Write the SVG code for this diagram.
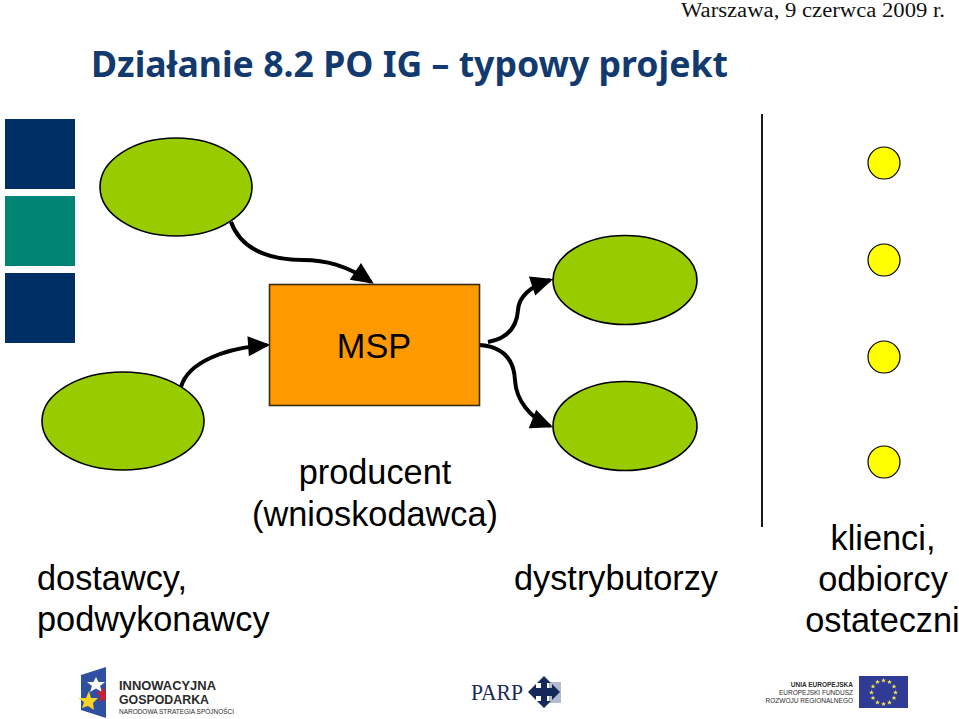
<svg xmlns="http://www.w3.org/2000/svg" xmlns:xlink="http://www.w3.org/1999/xlink" width="959" height="719" viewBox="0 0 959 719">
<style>
.lbl{font-family:"Liberation Sans",Arial,sans-serif;font-size:34.3px;fill:#000}
.m{text-anchor:middle}
.green{fill:#99cc00;stroke:#000;stroke-width:1.6}
.yellow{fill:#ffff00;stroke:#000;stroke-width:1.2}
.conn{fill:none;stroke:#000;stroke-width:4;marker-end:url(#head)}
.logo{font-family:"Liberation Sans",Arial,sans-serif;fill:#2b2b2b}
</style>
<defs>
<marker id="head" markerUnits="userSpaceOnUse" markerWidth="24" markerHeight="20" refX="17" refY="9" orient="auto" viewBox="0 0 20 18" overflow="visible"><polygon points="0,0 20,9 0,18" fill="#000"/></marker>
<polygon id="star" points="0,-2.6 .7,-.8 2.5,-.8 1.1,.3 1.6,2.1 0,1 -1.6,2.1 -1.1,.3 -2.5,-.8 -.7,-.8" fill="#f4e04d"/>
</defs>
<rect width="959" height="719" fill="#fff"/>
<text x="681" y="17" font-family="Liberation Serif,serif" font-size="20" fill="#111" textLength="264" lengthAdjust="spacingAndGlyphs">Warszawa, 9 czerwca 2009 r.</text>
<text x="91" y="77" font-family="Noto Sans,DejaVu Sans,sans-serif" font-weight="700" font-size="36" fill="#123a6e" textLength="637" lengthAdjust="spacingAndGlyphs">Działanie 8.2 PO IG – typowy projekt</text>
<g id="squares">
<rect x="5" y="119" width="70" height="70" fill="#003063"/>
<rect x="5" y="196" width="70" height="70" fill="#008575"/>
<rect x="5" y="273" width="70" height="70" fill="#003063"/>
</g>
<g id="connectors">
<path class="conn" d="M231,222 C243,255 280,260 303,260 C325,260 346,265 371,282"/>
<path class="conn" d="M181,387 C188,362 225,348 267,345"/>
<path class="conn" d="M488,342 C510,338 517,325 518,310 C519,296 532,286 550,280"/>
<path class="conn" d="M480,345 C505,347 514,362 515,380 C516,400 530,418 550,426"/>
</g>
<g id="node-a"><ellipse class="green" cx="176" cy="187" rx="76" ry="49"/></g>
<g id="node-b"><ellipse class="green" cx="123" cy="421" rx="81" ry="49"/></g>
<g id="node-c"><ellipse class="green" cx="625" cy="280" rx="72" ry="44.5"/></g>
<g id="node-d"><ellipse class="green" cx="625" cy="426" rx="72" ry="44.5"/></g>
<g id="node-msp"><rect x="269.5" y="284.5" width="210" height="121" fill="#ff9900" stroke="#3a2a10" stroke-width="1.6"/>
<text class="lbl m" x="374" y="358">MSP</text></g>
<line x1="762" y1="114" x2="762" y2="527" stroke="#000" stroke-width="1.8"/>
<g id="client-1"><circle class="yellow" cx="884" cy="163" r="16"/></g>
<g id="client-2"><circle class="yellow" cx="884" cy="260" r="16"/></g>
<g id="client-3"><circle class="yellow" cx="884" cy="357" r="16"/></g>
<g id="client-4"><circle class="yellow" cx="884" cy="462" r="16"/></g>
<text class="lbl m" x="375" y="484">producent</text>
<text class="lbl m" x="375" y="526">(wnioskodawca)</text>
<text class="lbl" x="37" y="590">dostawcy,</text>
<text class="lbl" x="37" y="631">podwykonawcy</text>
<text class="lbl" x="514" y="590">dystrybutorzy</text>
<text class="lbl m" x="883" y="550">klienci,</text>
<text class="lbl m" x="883" y="591">odbiorcy</text>
<text class="lbl m" x="882.500" y="632">ostateczni</text>
<g id="logo-ig">
<polygon points="81,675 106,667 106,718 81,710" fill="#2f4fa0"/>
<polygon points="96,677 98.500,682 105,682 100,686 102,692 96,688.500 90,692 92,686 87,682 93.500,682" fill="#fff"/>
<polygon points="103,687 105,691 106,691 106,702 103,699 99,702 100,696 96,692 101,692" fill="#c8202f"/>
<polygon points="89,691 91,698 98,698 93,703 94,710 88,706 82,708 84,702 78,698 86,698" fill="#f5d327"/>
<text class="logo" x="119" y="690" font-weight="700" font-size="12" textLength="97" lengthAdjust="spacingAndGlyphs">INNOWACYJNA</text>
<text class="logo" x="119" y="704" font-weight="700" font-size="12" textLength="90" lengthAdjust="spacingAndGlyphs">GOSPODARKA</text>
<text class="logo" x="119" y="714" font-size="7" textLength="115" lengthAdjust="spacingAndGlyphs">NARODOWA STRATEGIA SPÓJNOŚCI</text>
</g>
<g id="logo-parp">
<text x="471" y="700" font-family="Liberation Serif,serif" font-size="24" fill="#1c2c55" textLength="52" lengthAdjust="spacingAndGlyphs">PARP</text>
<rect x="549" y="682" width="12" height="21" fill="#b4bbd0"/>
<polygon points="544,676 551,683 547,683 547,688 552,688 552,684 560,692 552,700 552,696 547,696 547,701 551,701 544,708 537,701 541,701 541,696 536,696 536,700 528,692 536,684 536,688 541,688 541,683 537,683" fill="#14295a"/>
</g>
<g id="logo-eu">
<text class="logo" x="853" y="687" text-anchor="end" font-weight="700" font-size="6.500">UNIA EUROPEJSKA</text>
<text class="logo" x="853" y="695" text-anchor="end" font-size="6.500" fill="#555">EUROPEJSKI FUNDUSZ</text>
<text class="logo" x="853" y="703" text-anchor="end" font-size="6.500" fill="#555">ROZWOJU REGIONALNEGO</text>
<rect x="859" y="676" width="49" height="32" fill="#2f3b94"/>
<use xlink:href="#star" href="#star" x="883.500" y="680.500"/>
<use xlink:href="#star" href="#star" x="889.500" y="682"/>
<use xlink:href="#star" href="#star" x="894" y="686.500"/>
<use xlink:href="#star" href="#star" x="895.500" y="692.500"/>
<use xlink:href="#star" href="#star" x="894" y="698"/>
<use xlink:href="#star" href="#star" x="889.500" y="702.500"/>
<use xlink:href="#star" href="#star" x="883.500" y="704"/>
<use xlink:href="#star" href="#star" x="877.500" y="702.500"/>
<use xlink:href="#star" href="#star" x="873" y="698"/>
<use xlink:href="#star" href="#star" x="871.500" y="692.500"/>
<use xlink:href="#star" href="#star" x="873" y="686.500"/>
<use xlink:href="#star" href="#star" x="877.500" y="682"/>
</g>
</svg>
